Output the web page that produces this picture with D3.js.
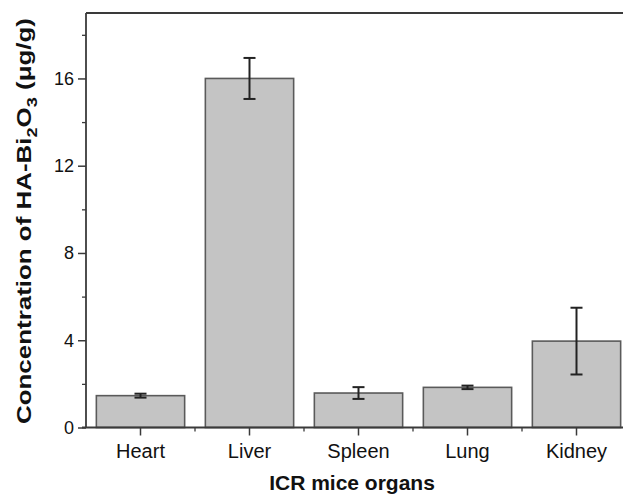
<!DOCTYPE html>
<html>
<head>
<meta charset="utf-8">
<script src="https://cdn.jsdelivr.net/npm/d3@7"></script>
<style>
  html, body { margin: 0; padding: 0; background: #fff; }
  svg { display: block; font-family: "Liberation Sans", Arial, sans-serif; }
</style>
</head>
<body>
<svg id="chart" width="623" height="500"></svg>
<script>
// Bismuth oxide concentration per organ (μg/g), mean ± error
const organs = ["Heart", "Liver", "Spleen", "Lung", "Kidney"];
const means = [1.46, 16.0, 1.58, 1.84, 3.96];
const errors = [0.09, 0.94, 0.27, 0.08, 1.53];
const yTicks = [0, 4, 8, 12, 16];
const yMinorTicks = [2, 6, 10, 14, 18];

const svg = d3.select("#chart");
const plotLeft = 86, plotTop = 13, plotBottom = 427.5;
const bandStep = 109;
const fontFamily = "Liberation Sans, Arial, sans-serif";

const x = d3.scaleBand()
  .domain(organs)
  .range([plotLeft, plotLeft + bandStep * organs.length])
  .paddingInner(0.19)
  .paddingOuter(0.095);

const y = d3.scaleLinear().domain([0, 19]).range([plotBottom, plotTop]);

const axisColor = "#3a3a3a";

// Bars
svg.append("g").selectAll("rect")
  .data(organs)
  .join("rect")
  .attr("x", d => x(d))
  .attr("width", x.bandwidth())
  .attr("y", (d, i) => y(means[i]))
  .attr("height", (d, i) => y(0) - y(means[i]))
  .attr("fill", "#c4c4c4")
  .attr("stroke", "#5a5a5a")
  .attr("stroke-width", 1.6);

// Error bars
const eb = svg.append("g").attr("stroke", "#222").attr("stroke-width", 2);
organs.forEach((o, i) => {
  const cx = x(o) + x.bandwidth() / 2;
  const y1 = y(means[i] + errors[i]), y2 = y(means[i] - errors[i]);
  eb.append("line").attr("x1", cx).attr("x2", cx).attr("y1", y1).attr("y2", y2);
  eb.append("line").attr("x1", cx - 6).attr("x2", cx + 6).attr("y1", y1).attr("y2", y1);
  eb.append("line").attr("x1", cx - 6).attr("x2", cx + 6).attr("y1", y2).attr("y2", y2);
});

// Y axis
const yAxis = svg.append("g")
  .attr("transform", `translate(${plotLeft},0)`)
  .call(d3.axisLeft(y).tickValues(yTicks).tickSize(8).tickPadding(4).tickFormat(d3.format("d")));
yAxis.select(".domain").remove();
yAxis.selectAll("line").attr("stroke", axisColor).attr("stroke-width", 1.5);
yAxis.selectAll("text").attr("font-size", 18).attr("fill", "#111").attr("font-family", fontFamily);

const yMinor = svg.append("g")
  .attr("transform", `translate(${plotLeft},0)`)
  .call(d3.axisLeft(y).tickValues(yMinorTicks).tickSize(4).tickFormat(""));
yMinor.select(".domain").remove();
yMinor.selectAll("line").attr("stroke", axisColor).attr("stroke-width", 1.3);

// X axis
const xAxis = svg.append("g")
  .attr("transform", `translate(0,${plotBottom})`)
  .call(d3.axisBottom(x).tickSize(8).tickPadding(8));
xAxis.select(".domain").remove();
xAxis.selectAll("line").attr("stroke", axisColor).attr("stroke-width", 1.5);
xAxis.selectAll("text").attr("font-size", 20).attr("fill", "#111").attr("font-family", fontFamily);

// Minor ticks between categories
const between = organs.slice(1).map(o => x(o) - x.step() * x.paddingInner() / 2);
svg.append("g").selectAll("line")
  .data(between)
  .join("line")
  .attr("x1", d => d).attr("x2", d => d)
  .attr("y1", plotBottom).attr("y2", plotBottom + 4)
  .attr("stroke", axisColor).attr("stroke-width", 1.3);

// Frame: left, top, bottom lines
svg.append("line").attr("x1", plotLeft).attr("x2", plotLeft).attr("y1", plotTop).attr("y2", plotBottom)
  .attr("stroke", axisColor).attr("stroke-width", 1.8);
svg.append("line").attr("x1", plotLeft).attr("x2", 640).attr("y1", plotTop).attr("y2", plotTop)
  .attr("stroke", axisColor).attr("stroke-width", 1.8);
svg.append("line").attr("x1", plotLeft - 4).attr("x2", 640).attr("y1", plotBottom).attr("y2", plotBottom)
  .attr("stroke", axisColor).attr("stroke-width", 1.8);

// X title
svg.append("text")
  .attr("x", 352).attr("y", 490)
  .attr("text-anchor", "middle")
  .attr("font-size", 21).attr("font-weight", "bold").attr("fill", "#111")
  .text("ICR mice organs");

// Y title with subscripts, stretched along its baseline
const yt = svg.append("text")
  .attr("transform", `translate(31,221) rotate(-90)`)
  .attr("text-anchor", "middle")
  .attr("font-size", 20).attr("font-weight", "bold").attr("fill", "#111")
  .attr("textLength", 406).attr("lengthAdjust", "spacingAndGlyphs");
yt.append("tspan").text("Concentration of HA-Bi");
yt.append("tspan").attr("font-size", 14).attr("dy", 6).text("2");
yt.append("tspan").attr("dy", -6).text("O");
yt.append("tspan").attr("font-size", 14).attr("dy", 6).text("3");
yt.append("tspan").attr("dy", -6).text(" (μg/g)");
</script>
</body>
</html>
